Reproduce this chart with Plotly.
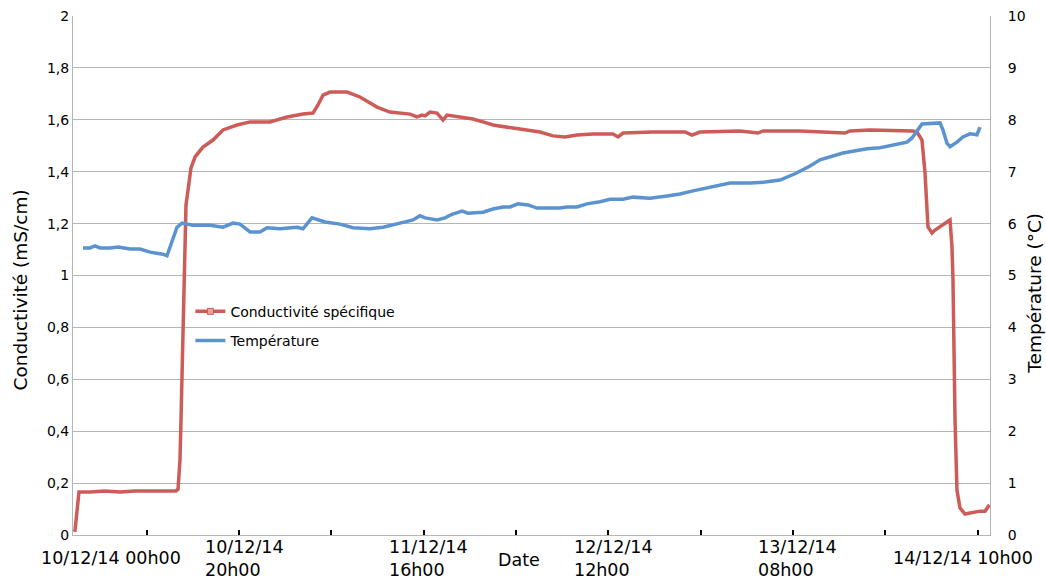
import plotly.graph_objects as go

# hours since the left edge of the axis
cond_hours = [0.2, 0.65, 1.84, 3.47, 5.09, 6.72, 8.34, 9.97, 11.16, 11.38, 11.59, 11.70, 11.81,
              11.92, 12.03, 12.13, 12.24, 12.46, 12.78, 13.22, 14.08, 15.17, 16.25, 17.77, 19.18,
              21.34, 22.10, 23.19, 24.92, 26.00, 26.54, 27.09, 27.84, 29.69, 31.09, 32.94, 34.34,
              36.51, 37.27, 37.81, 38.14, 38.68, 39.44, 40.09, 40.52, 41.60, 43.34, 44.42, 45.50,
              47.67, 50.60, 52.00, 53.30, 54.60, 56.34, 58.50, 59.05, 59.59, 62.84, 66.31, 67.06,
              67.93, 70.31, 72.26, 74.21, 74.76, 78.76, 83.64, 84.18, 86.35, 91.01, 91.44, 91.98,
              92.31, 92.63, 93.07, 93.39, 93.93, 94.47, 95.02, 95.23, 95.34, 95.56, 95.67, 95.77,
              96.10, 96.64, 97.18, 98.27, 98.81, 99.30]
cond = [0.012, 0.166, 0.166, 0.170, 0.166, 0.170, 0.170, 0.170, 0.170, 0.177, 0.289, 0.443, 0.597,
        0.790, 0.944, 1.098, 1.272, 1.329, 1.414, 1.457, 1.495, 1.522, 1.561, 1.580, 1.592,
        1.592, 1.599, 1.611, 1.622, 1.626, 1.657, 1.695, 1.707, 1.707, 1.688, 1.649, 1.630,
        1.622, 1.611, 1.618, 1.615, 1.630, 1.626, 1.599, 1.618, 1.611, 1.603, 1.592, 1.580,
        1.568, 1.553, 1.538, 1.534, 1.541, 1.545, 1.545, 1.534, 1.549, 1.553, 1.553, 1.541,
        1.553, 1.557, 1.557, 1.549, 1.557, 1.557, 1.549, 1.557, 1.561, 1.557, 1.553, 1.522,
        1.395, 1.187, 1.164, 1.175, 1.187, 1.202, 1.214, 1.110, 0.983, 0.443, 0.250, 0.173,
        0.104, 0.081, 0.085, 0.092, 0.092, 0.116]

temp_hours = [1.08, 1.84, 2.38, 2.93, 4.01, 4.88, 6.18, 7.26, 8.34, 9.10, 9.75, 10.18, 10.73,
              11.27, 11.81, 13.00, 14.84, 16.25, 17.33, 18.09, 19.18, 20.26, 21.02, 22.43, 24.27,
              24.92, 25.89, 27.30, 28.93, 30.34, 32.18, 33.59, 35.43, 36.84, 37.59, 38.14, 39.44,
              40.30, 41.06, 42.15, 42.80, 43.77, 44.42, 45.50, 46.59, 47.35, 48.21, 49.30, 50.27,
              51.35, 52.76, 53.52, 54.60, 55.69, 57.10, 58.18, 59.59, 60.67, 62.51, 64.36, 65.76,
              67.17, 68.69, 70.10, 71.18, 73.35, 74.97, 76.60, 78.22, 79.85, 80.93, 83.42, 86.02,
              87.43, 90.36, 90.90, 91.44, 91.98, 93.93, 94.26, 94.69, 95.02, 95.77, 96.42, 97.18,
              97.94, 98.27]
temp = [5.53, 5.53, 5.57, 5.53, 5.53, 5.55, 5.51, 5.51, 5.45, 5.43, 5.41, 5.38, 5.68,
        5.93, 6.01, 5.97, 5.97, 5.93, 6.01, 5.99, 5.84, 5.84, 5.92, 5.90, 5.93,
        5.90, 6.11, 6.03, 5.99, 5.92, 5.90, 5.93, 6.01, 6.07, 6.15, 6.11, 6.07,
        6.11, 6.18, 6.24, 6.20, 6.22, 6.22, 6.28, 6.32, 6.32, 6.38, 6.36, 6.30,
        6.30, 6.30, 6.32, 6.32, 6.38, 6.42, 6.47, 6.47, 6.51, 6.49, 6.53, 6.57,
        6.63, 6.69, 6.74, 6.78, 6.78, 6.80, 6.84, 6.96, 7.11, 7.23, 7.36, 7.44,
        7.46, 7.57, 7.65, 7.80, 7.92, 7.94, 7.80, 7.55, 7.48, 7.57, 7.67, 7.73,
        7.71, 7.86]

tick_hours = [8, 18, 28, 38, 48, 58, 68, 78, 88, 98]
label_hours = [4.1, 18, 38, 58, 78, 96.4]
label_texts = ["10/12/14 00h00", "10/12/14<br>20h00", "11/12/14<br>16h00",
               "12/12/14<br>12h00", "13/12/14<br>08h00", "14/12/14 10h00"]

red = "#CD5C58"
blue = "#5B93D0"
grid = "#B5B5B5"

fig = go.Figure()

# legend entry for conductivity (line with its square marker), no data drawn
fig.add_trace(go.Scatter(x=[None], y=[None], mode="lines+markers", name="Conductivité spécifique",
                         line=dict(color=red, width=3.5), legendgroup="c",
                         marker=dict(symbol="square", size=6, color="#EBA29E",
                                     line=dict(color=red, width=1))))
fig.add_trace(go.Scatter(x=cond_hours, y=cond, mode="lines", line=dict(color=red, width=3.5),
                         showlegend=False, legendgroup="c", yaxis="y"))
fig.add_trace(go.Scatter(x=temp_hours, y=temp, mode="lines", line=dict(color=blue, width=3.5),
                         name="Température", legendgroup="t", yaxis="y2"))

annotations = []
for h, t in zip(label_hours, label_texts):
    two_lines = "<br>" in t
    annotations.append(dict(x=h, y=0, xref="x", yref="paper", yshift=-23,
                            xshift=5 if two_lines else 0, text=t,
                            showarrow=False, xanchor="center", yanchor="middle", align="left",
                            font=dict(size=17.5)))
annotations.append(dict(x=48.3, y=0, xref="x", yref="paper", yshift=-25, text="Date",
                        showarrow=False, yanchor="middle", font=dict(size=17.5)))
annotations.append(dict(x=0, y=0.472, xref="paper", yref="paper", xshift=-65,
                        text="Conductivité (mS/cm)", textangle=-90, showarrow=False,
                        font=dict(size=18.5)))
annotations.append(dict(x=1, y=0.466, xref="paper", yref="paper", xshift=57,
                        text="Température (°C)", textangle=-90, showarrow=False,
                        font=dict(size=18.5)))

fig.update_layout(
    width=1046, height=581,
    margin=dict(l=73, r=56, t=16, b=46),
    paper_bgcolor="white", plot_bgcolor="white",
    font=dict(family="DejaVu Sans", size=14, color="black"),
    separators=", ",
    xaxis=dict(range=[0, 99.35], showgrid=False, zeroline=False, showline=True,
               linecolor=grid, linewidth=1, ticks="inside", tickvals=tick_hours,
               ticklen=5, tickwidth=2, tickcolor="black", showticklabels=False,
               automargin=False),
    yaxis=dict(range=[0, 2], dtick=0.2, showgrid=True, gridcolor=grid, zeroline=False,
               showline=True, linecolor=grid, ticks="", tickfont=dict(size=14),
               automargin=False),
    yaxis2=dict(range=[0, 10], dtick=1, overlaying="y", side="right", showgrid=False,
                zeroline=False, showline=True, linecolor=grid, ticks="",
                tickfont=dict(size=14), ticklabelstandoff=14, automargin=False),
    legend=dict(x=0.128, y=0.461, xanchor="left", yanchor="top", bgcolor="rgba(0,0,0,0)",
                traceorder="grouped", tracegroupgap=8, itemwidth=30, font=dict(size=14)),
    annotations=annotations,
)

# drop the browser's default page margin so the figure sits at the window corner
fig.write_html("out.html", config={"displayModeBar": False},
               post_script="document.body.style.margin='0';")
